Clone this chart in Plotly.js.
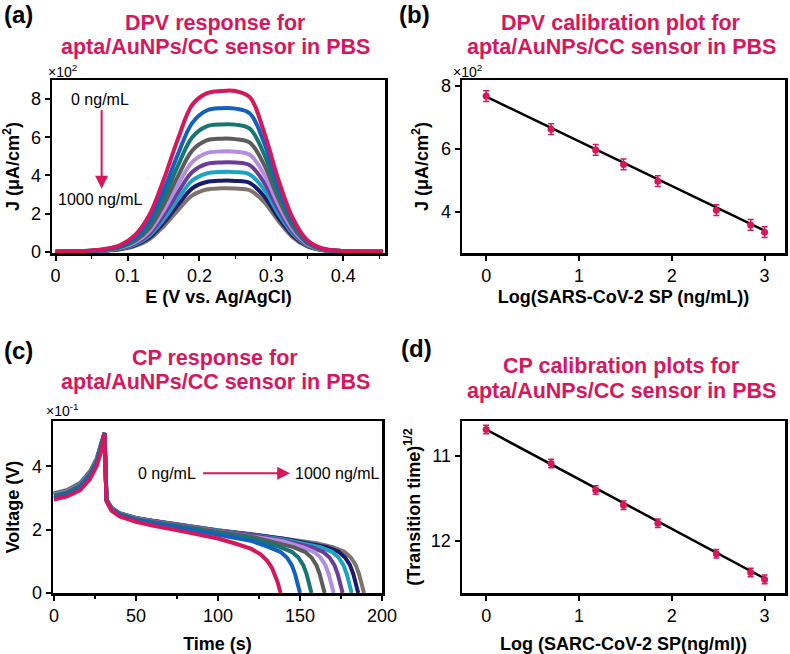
<!DOCTYPE html>
<html>
<head>
<meta charset="utf-8">
<script src="https://cdn.plot.ly/plotly-3.0.1.min.js"></script>
<style>body{margin:0}#plot{width:790px;height:654px}</style>
</head>
<body>
<div id="plot"></div>
<script>
// curve colours, 0 ng/mL first ... 1000 ng/mL last
var colors = ['#d6175c', '#1262bd', '#177575', '#5c5c5c', '#b38ee0', '#6a3c9c', '#1aa3c2', '#1c1a6c', '#7e746c'];
var pink = '#d6175c';

// (a) DPV curves
var dpvE = [0, 0.04, 0.07, 0.09, 0.11, 0.13, 0.15, 0.17, 0.19, 0.21, 0.23, 0.25, 0.27, 0.29, 0.31, 0.33, 0.35, 0.37, 0.40, 0.455];
var dpvJ = [
  [0, 0.03, 0.15, 0.35, 0.85, 1.9, 3.75, 5.9, 7.7, 8.3, 8.42, 8.42, 8.1, 6.25, 3.75, 1.75, 0.6, 0.18, 0.03, 0],
  [0, 0.03, 0.13, 0.3, 0.72, 1.6, 3.2, 5.1, 6.75, 7.4, 7.52, 7.5, 7.25, 5.7, 3.4, 1.6, 0.55, 0.16, 0.03, 0],
  [0, 0.02, 0.11, 0.26, 0.62, 1.4, 2.8, 4.5, 6.0, 6.57, 6.67, 6.66, 6.45, 5.1, 3.05, 1.45, 0.5, 0.15, 0.03, 0],
  [0, 0.02, 0.1, 0.23, 0.55, 1.2, 2.45, 3.95, 5.3, 5.83, 5.92, 5.9, 5.72, 4.55, 2.75, 1.3, 0.45, 0.14, 0.02, 0],
  [0, 0.02, 0.09, 0.2, 0.48, 1.05, 2.15, 3.5, 4.7, 5.17, 5.25, 5.24, 5.08, 4.05, 2.45, 1.15, 0.4, 0.12, 0.02, 0],
  [0, 0.02, 0.08, 0.18, 0.42, 0.93, 1.9, 3.1, 4.18, 4.6, 4.68, 4.67, 4.53, 3.62, 2.2, 1.03, 0.36, 0.11, 0.02, 0],
  [0, 0.01, 0.07, 0.16, 0.37, 0.82, 1.68, 2.75, 3.73, 4.1, 4.18, 4.17, 4.05, 3.25, 1.98, 0.93, 0.33, 0.1, 0.02, 0],
  [0, 0.01, 0.06, 0.14, 0.33, 0.73, 1.5, 2.45, 3.32, 3.65, 3.72, 3.71, 3.6, 2.9, 1.77, 0.83, 0.3, 0.09, 0.01, 0],
  [0, 0.01, 0.05, 0.12, 0.29, 0.64, 1.32, 2.17, 2.95, 3.26, 3.32, 3.31, 3.22, 2.6, 1.6, 0.75, 0.27, 0.08, 0.01, 0]
];

// (c) CP curves: time (s) and voltage (x10^-1 V)
var cpT = [
  [0, 8, 16, 22, 26, 29, 30.8, 32, 35, 40, 50, 60, 80, 100, 110, 120, 126, 130, 133, 135, 136.5, 137.5, 138.2],
  [0, 8, 16, 22, 26, 29, 30.8, 32, 35, 40, 50, 60, 80, 100, 120, 131, 138, 142, 145, 147, 148.5, 150],
  [0, 8, 16, 22, 26, 29, 30.8, 32, 35, 40, 50, 60, 80, 100, 120, 138, 145, 149, 152, 154, 155.5, 157],
  [0, 8, 16, 22, 26, 29, 30.8, 32, 35, 40, 50, 60, 80, 100, 120, 146, 153, 157, 160, 162, 163.5, 165],
  [0, 8, 16, 22, 26, 29, 30.8, 32, 35, 40, 50, 60, 80, 100, 120, 140, 151.5, 158.5, 162.5, 165.5, 167.5, 169, 170.5],
  [0, 8, 16, 22, 26, 29, 30.8, 32, 35, 40, 50, 60, 80, 100, 120, 140, 157, 164, 168, 171, 173, 174.5, 176],
  [0, 8, 16, 22, 26, 29, 30.8, 32, 35, 40, 50, 60, 80, 100, 120, 140, 162.5, 169.5, 173.5, 176.5, 178.5, 180, 181.5],
  [0, 8, 16, 22, 26, 29, 30.8, 32, 35, 40, 50, 60, 80, 100, 120, 140, 166.5, 173.5, 177.5, 180.5, 182.5, 184, 185.5],
  [0, 8, 16, 22, 26, 29, 30.8, 32, 35, 40, 50, 60, 80, 100, 120, 140, 160, 170, 177, 181, 184, 186, 187.5, 189]
];
var cpV = [
  [2.95, 3.05, 3.25, 3.6, 4.0, 4.5, 5.05, 2.9, 2.6, 2.42, 2.25, 2.13, 1.93, 1.72, 1.57, 1.4, 1.22, 1.02, 0.78, 0.55, 0.32, 0.12, 0],
  [3.0, 3.1, 3.32, 3.68, 4.08, 4.6, 5.05, 2.92, 2.64, 2.46, 2.3, 2.2, 2.02, 1.84, 1.65, 1.45, 1.3, 1.12, 0.88, 0.6, 0.3, 0],
  [3.05, 3.15, 3.36, 3.72, 4.12, 4.64, 5.05, 2.93, 2.65, 2.48, 2.32, 2.23, 2.06, 1.9, 1.72, 1.45, 1.3, 1.12, 0.88, 0.6, 0.3, 0],
  [3.08, 3.18, 3.4, 3.76, 4.16, 4.68, 5.05, 2.94, 2.66, 2.49, 2.34, 2.25, 2.09, 1.93, 1.78, 1.45, 1.3, 1.12, 0.88, 0.6, 0.3, 0],
  [3.1, 3.2, 3.42, 3.78, 4.18, 4.7, 5.05, 2.95, 2.67, 2.5, 2.35, 2.26, 2.1, 1.95, 1.81, 1.63, 1.45, 1.3, 1.12, 0.88, 0.6, 0.3, 0],
  [3.1, 3.2, 3.42, 3.78, 4.18, 4.7, 5.05, 2.95, 2.67, 2.5, 2.35, 2.27, 2.11, 1.96, 1.83, 1.66, 1.45, 1.3, 1.12, 0.88, 0.6, 0.3, 0],
  [3.12, 3.22, 3.44, 3.8, 4.2, 4.72, 5.05, 2.96, 2.68, 2.51, 2.36, 2.27, 2.11, 1.97, 1.84, 1.69, 1.45, 1.3, 1.12, 0.88, 0.6, 0.3, 0],
  [3.12, 3.22, 3.44, 3.8, 4.2, 4.72, 5.05, 2.96, 2.68, 2.51, 2.36, 2.28, 2.12, 1.97, 1.85, 1.71, 1.45, 1.3, 1.12, 0.88, 0.6, 0.3, 0],
  [3.15, 3.25, 3.48, 3.85, 4.25, 4.75, 5.05, 2.97, 2.7, 2.52, 2.38, 2.28, 2.12, 1.98, 1.86, 1.73, 1.57, 1.45, 1.3, 1.12, 0.88, 0.6, 0.3, 0]
];

// (b) and (d) calibration points
var logConc = [0, 0.7, 1.18, 1.48, 1.85, 2.48, 2.85, 3.0];
var dpvCal = [7.67, 6.62, 5.96, 5.50, 4.97, 4.05, 3.58, 3.35];
var dpvErr = [0.17, 0.17, 0.17, 0.17, 0.17, 0.17, 0.17, 0.17];
var dpvFitX = [0, 3];
var dpvFitY = [7.65, 3.40];
var cpCal = [10.69, 11.09, 11.40, 11.58, 11.79, 12.15, 12.37, 12.45];
var cpErr = [0.05, 0.05, 0.05, 0.05, 0.05, 0.05, 0.05, 0.05];
var cpFitX = [0, 3];
var cpFitY = [10.69, 12.44];

var W = 790, H = 654;
function px(v) { return v / W; }
function py(v) { return 1 - v / H; }

var data = [];
// draw the 1000 ng/mL curve first so pink ends on top
for (var i = dpvJ.length - 1; i >= 0; i--) {
  data.push({x: dpvE, y: dpvJ[i], xaxis: 'x', yaxis: 'y', mode: 'lines',
    line: {color: colors[i], width: 4, shape: 'spline', smoothing: 1}, hoverinfo: 'skip'});
}
for (var k = cpT.length - 1; k >= 0; k--) {
  data.push({x: cpT[k], y: cpV[k], xaxis: 'x3', yaxis: 'y3', mode: 'lines',
    line: {color: colors[k], width: 4}, hoverinfo: 'skip'});
}
data.push({x: dpvFitX, y: dpvFitY, xaxis: 'x2', yaxis: 'y2', mode: 'lines', line: {color: '#000', width: 2.5}});
data.push({x: logConc, y: dpvCal, xaxis: 'x2', yaxis: 'y2', mode: 'markers',
  marker: {color: pink, size: 7},
  error_y: {type: 'data', array: dpvErr, color: pink, thickness: 1.5, width: 3}});
data.push({x: cpFitX, y: cpFitY, xaxis: 'x4', yaxis: 'y4', mode: 'lines', line: {color: '#000', width: 2.5}});
data.push({x: logConc, y: cpCal, xaxis: 'x4', yaxis: 'y4', mode: 'markers',
  marker: {color: pink, size: 7},
  error_y: {type: 'data', array: cpErr, color: pink, thickness: 1.5, width: 3}});

function ax(o) {
  var base = {showline: true, mirror: true, linecolor: '#000', linewidth: 2.5,
    ticks: 'outside', ticklen: 5, tickwidth: 2, tickcolor: '#000',
    showgrid: false, zeroline: false, tickfont: {size: 18, color: '#000'}};
  for (var key in o) base[key] = o[key];
  return base;
}
function atitle(t, s) { return {text: t, standoff: s, font: {size: 18, weight: 'bold', color: '#000'}}; }

var ann = [];
function txt(t, x, y, size, opts) {
  var a = {text: t, x: x, y: y, xref: 'paper', yref: 'paper', showarrow: false,
    xanchor: 'center', yanchor: 'middle', font: {size: size, color: '#000'}};
  for (var key in opts) a[key] = opts[key];
  ann.push(a);
}
// panel letters
var lf = {size: 24, weight: 'bold', color: '#000'};
txt('(a)', px(18), py(15), 24, {font: lf});
txt('(b)', px(414), py(15), 24, {font: lf});
txt('(c)', px(18), py(350), 24, {font: lf});
txt('(d)', px(416), py(348), 24, {font: lf});
// panel titles
var tf = {size: 21.5, weight: 'bold', color: pink};
txt('DPV response for', px(215), py(23), 21.5, {font: tf});
txt('apta/AuNPs/CC sensor in PBS', px(215), py(47), 21.5, {font: tf});
txt('DPV calibration plot for', px(621), py(23), 21.5, {font: tf});
txt('apta/AuNPs/CC sensor in PBS', px(621), py(47), 21.5, {font: tf});
txt('CP response for', px(215), py(358), 21.5, {font: tf});
txt('apta/AuNPs/CC sensor in PBS', px(215), py(382), 21.5, {font: tf});
txt('CP calibration plots for', px(621), py(366), 21.5, {font: tf});
txt('apta/AuNPs/CC sensor in PBS', px(621), py(391), 21.5, {font: tf});
// exponent labels
txt('×10<sup>2</sup>', px(62), py(71), 14, {});
txt('×10<sup>2</sup>', px(467), py(71), 14, {});
txt('×10<sup>-1</sup>', px(62), py(410), 14, {});

// concentration arrows
ann.push({text: '0 ng/mL', x: 0.062, y: 8.0, xref: 'x', yref: 'y', showarrow: false, font: {size: 16, color: '#000'}});
ann.push({text: '1000 ng/mL', x: 0.062, y: 2.75, xref: 'x', yref: 'y', showarrow: false, font: {size: 16, color: '#000'}});
ann.push({text: '', x: 0.064, y: 3.3, ax: 0.064, ay: 7.5, xref: 'x', yref: 'y', axref: 'x', ayref: 'y',
  showarrow: true, arrowhead: 2, arrowsize: 1.3, arrowwidth: 2, arrowcolor: pink});
ann.push({text: '0 ng/mL', x: 69, y: 3.78, xref: 'x3', yref: 'y3', showarrow: false, font: {size: 16, color: '#000'}});
ann.push({text: '1000 ng/mL', x: 173, y: 3.78, xref: 'x3', yref: 'y3', showarrow: false, font: {size: 16, color: '#000'}});
ann.push({text: '', x: 144, y: 3.78, ax: 90, ay: 3.78, xref: 'x3', yref: 'y3', axref: 'x3', ayref: 'y3',
  showarrow: true, arrowhead: 2, arrowsize: 1.3, arrowwidth: 2, arrowcolor: pink});

var layout = {
  width: W, height: H,
  margin: {l: 0, r: 0, t: 0, b: 0},
  paper_bgcolor: '#fff', plot_bgcolor: '#fff',
  showlegend: false,
  font: {family: 'Liberation Sans, Arial, sans-serif', color: '#000'},
  xaxis: ax({domain: [px(52), px(385)], anchor: 'y', range: [-0.005, 0.458], dtick: 0.1, tick0: 0,
    minor: {ticks: 'outside', ticklen: 3, tickwidth: 1.5, dtick: 0.05, tickcolor: '#000'},
    title: atitle('E (V vs. Ag/AgCl)', 6)}),
  yaxis: ax({domain: [py(253), py(80)], anchor: 'x', range: [-0.07, 9.0], dtick: 2, tick0: 0,
    title: atitle('J (μA/cm<sup>2</sup>)', 8)}),
  xaxis2: ax({domain: [px(462), px(785)], anchor: 'y2', range: [-0.26, 3.22], dtick: 1, tick0: 0,
    title: atitle('Log(SARS-CoV-2 SP (ng/mL))', 6)}),
  yaxis2: ax({domain: [py(253), py(80)], anchor: 'x2', range: [2.69, 8.18], dtick: 2, tick0: 0,
    title: atitle('J (μA/cm<sup>2</sup>)', 8)}),
  xaxis3: ax({domain: [px(53), px(382)], anchor: 'y3', range: [-0.6, 200], dtick: 50, tick0: 0,
    minor: {ticks: 'outside', ticklen: 3, tickwidth: 1.5, dtick: 25, tickcolor: '#000'},
    title: atitle('Time (s)', 14)}),
  yaxis3: ax({domain: [py(593), py(421)], anchor: 'x3', range: [0, 5.43], dtick: 2, tick0: 0,
    title: atitle('Voltage (V)', 8)}),
  xaxis4: ax({domain: [px(462), px(785)], anchor: 'y4', range: [-0.26, 3.22], dtick: 1, tick0: 0,
    title: atitle('Log (SARC-CoV-2 SP(ng/ml))', 14)}),
  yaxis4: ax({domain: [py(593), py(421)], anchor: 'x4', range: [12.61, 10.59], dtick: 1, tick0: 0,
    title: atitle('(Transition time)<sup>1/2</sup>', 6)}),
  annotations: ann
};

Plotly.newPlot('plot', data, layout, {displayModeBar: false, staticPlot: true});
</script>
</body>
</html>
